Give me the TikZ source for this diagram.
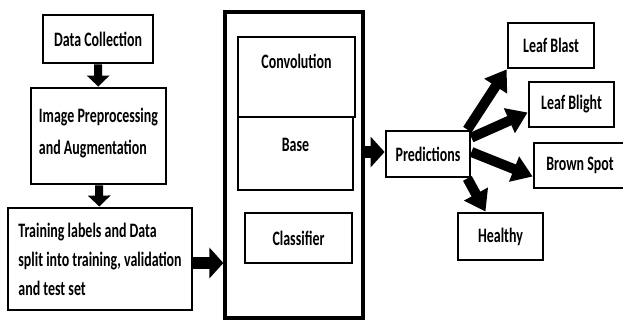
\documentclass[tikz,border=0pt]{standalone}
\usepackage{fontspec}
\setmainfont{Carlito}[FakeStretch=0.68]
\usepackage{tikz}
\usetikzlibrary{arrows.meta, positioning}

\begin{document}
\begin{tikzpicture}[
  x=1pt, y=-1pt,
  every node/.style={font=\bfseries\fontsize{20.5}{29}\selectfont},
  box/.style={rectangle, draw=black, line width=2.8pt, fill=white,
              inner sep=0pt, align=center},
  flow/.style={line width=8pt, -{Triangle[length=11pt, width=22pt]}},
  fat/.style={line width=12pt, -{Triangle[length=14pt, width=30pt]}},
  predarr/.style={line width=10pt, -{Triangle[length=20pt, width=26pt]}}
]
\useasboundingbox (0,0) rectangle (623,322);

% --- Left column ---
\node[box, minimum width=110pt, minimum height=48pt] (dc) at (98,39) {Data Collection};
\node[box, minimum width=135pt, minimum height=96pt, align=left,
      font=\bfseries\fontsize{20.5}{32}\selectfont] (prep) at (98.5,136)
  {Image Preprocessing\\and Augmentation\\[-22pt]};
\node[box, minimum width=184pt, minimum height=102pt, align=left] (train) at (100,259)
  {Training labels and Data\\split into training, validation\\and test set};

% --- Model ---
\node[box, line width=3.2pt, minimum width=138pt, minimum height=306pt] (model) at (294,165) {};
\node[box, text width=117pt, text height=31pt, text depth=49pt] (conv) at (296.5,77) {Convolution};
\node[box, text width=115pt, text height=34pt, text depth=39pt] (base) at (295.5,153.5) {Base};
\node[box, minimum width=107pt, minimum height=50pt] (clf) at (298.5,238) {Classifier};

% --- Outputs ---
\node[box, minimum width=84pt, minimum height=46pt] (pred) at (428,154) {Predictions};
\node[box, minimum width=86pt, minimum height=45pt] (blast) at (551,45.5) {Leaf Blast};
\node[box, minimum width=85pt, minimum height=45pt] (blight) at (571.5,104.5) {Leaf Blight};
\node[box, minimum width=92pt, minimum height=45pt] (brown) at (580,165.5) {Brown Spot};
\node[box, minimum width=85pt, minimum height=47pt] (healthy) at (500.5,236.5) {Healthy};

% --- Arrows ---
\draw[flow] (dc) -- (prep);
\draw[flow] (prep) -- (train);
\draw[fat] (train.east |- 0,263) -- (model.west |- 0,263);
\draw[fat] (model.east |- 0,152) -- (pred.west |- 0,152);
\draw[predarr] ([xshift=-4pt]pred.north east) -- (blast.south west);
\draw[predarr] ([yshift=-8pt]pred.north east) -- ([yshift=-8pt]blight.west);
\draw[predarr] ([yshift=2pt]pred.east) -- ([yshift=-11pt]brown.west);
\draw[predarr] ([xshift=-4pt]pred.south east) -- ([xshift=-15pt]healthy.north);

\end{tikzpicture}
\end{document}
